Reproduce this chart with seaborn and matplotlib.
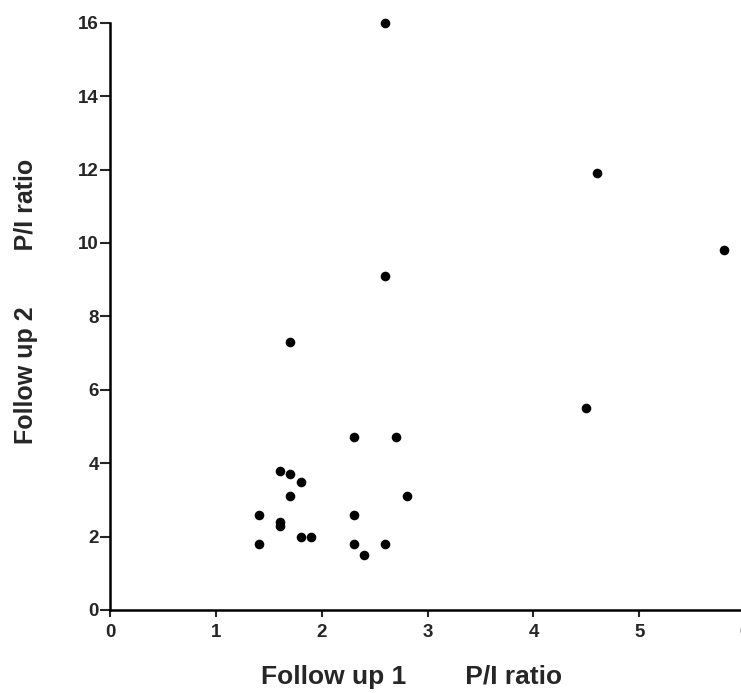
import matplotlib
matplotlib.use("Agg")
import matplotlib.pyplot as plt
import seaborn as sns
import pandas as pd

follow_up_1 = [1.4, 1.4, 1.6, 1.7, 1.8, 1.7, 1.6, 1.6, 1.8, 1.9,
               2.3, 2.7, 2.8, 2.3, 2.3, 2.4, 2.6,
               2.6, 4.6, 5.8, 2.6, 1.7, 4.5]
follow_up_2 = [2.6, 1.8, 3.8, 3.7, 3.5, 3.1, 2.4, 2.3, 2.0, 2.0,
               4.7, 4.7, 3.1, 2.6, 1.8, 1.5, 1.8,
               16.0, 11.9, 9.8, 9.1, 7.3, 5.5]
x_ticks = [0, 1, 2, 3, 4, 5, 6]
y_ticks = [0, 2, 4, 6, 8, 10, 12, 14, 16]

df = pd.DataFrame({"fu1": follow_up_1, "fu2": follow_up_2})

sns.set_style("white")
plt.rcParams["font.family"] = ["Liberation Sans", "DejaVu Sans"]

fig = plt.figure(figsize=(7.41, 6.93), dpi=100)
ax = fig.add_axes([0.1491, 0.1198, 0.8563, 0.8473])
sns.scatterplot(data=df, x="fu1", y="fu2", color="black", s=48,
                linewidth=0, ax=ax, clip_on=False)

ax.set_xlim(0, 6)
ax.set_ylim(0, 16)
ax.set_xticks(x_ticks)
ax.set_yticks(y_ticks)
for s in ["top", "right"]:
    ax.spines[s].set_visible(False)
for s in ["left", "bottom"]:
    ax.spines[s].set_linewidth(1.8)
    ax.spines[s].set_color("black")
ax.tick_params(axis="y", direction="out", length=7, width=1.5, pad=1.5,
               labelsize=13.5, left=True)
ax.tick_params(axis="x", direction="out", length=5, width=1.5, pad=5,
               labelsize=13.5, bottom=True)
for lab in ax.get_xticklabels() + ax.get_yticklabels():
    lab.set_fontweight("bold")

ax.set_xlabel("Follow up 1        P/I ratio", fontsize=19, fontweight="bold")
ax.set_ylabel("Follow up 2        P/I ratio", fontsize=18, fontweight="bold")
ax.xaxis.set_label_coords(0.474, -0.093)
ax.yaxis.set_label_coords(-0.114, 0.525)

fig.savefig("out.png", dpi=100, facecolor="white")
